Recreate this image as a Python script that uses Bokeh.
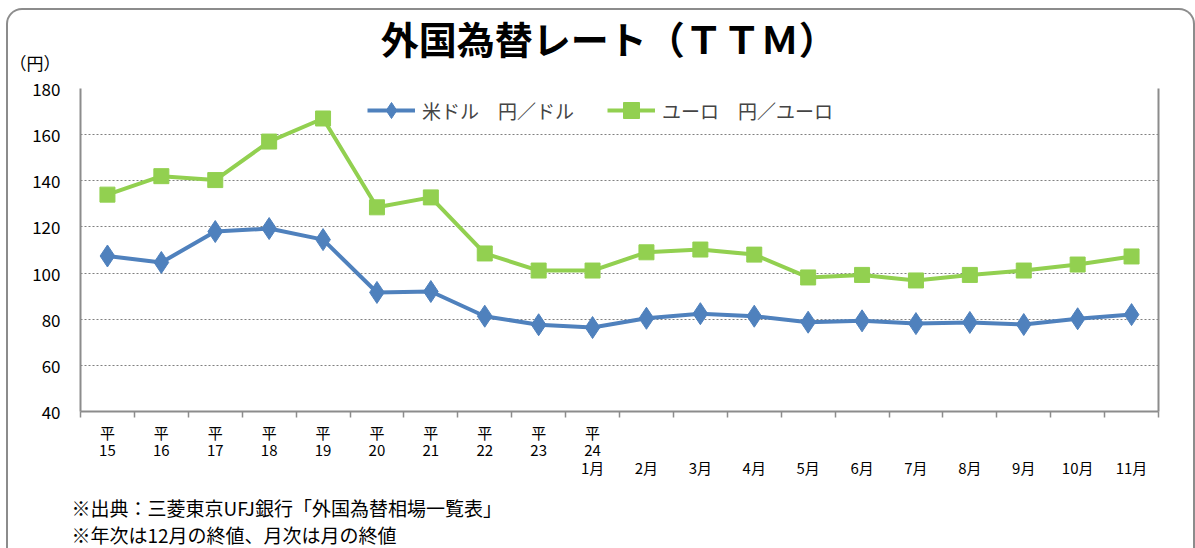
from bokeh.plotting import figure
from bokeh.models import Range1d, FixedTicker, LinearAxis, Legend, Title, Grid
from bokeh.embed import file_html
from bokeh.resources import INLINE

categories = ["平\n15", "平\n16", "平\n17", "平\n18", "平\n19", "平\n20", "平\n21",
              "平\n22", "平\n23", "平\n24\n1月", "\n\n2月", "\n\n3月", "\n\n4月",
              "\n\n5月", "\n\n6月", "\n\n7月", "\n\n8月", "\n\n9月", "\n\n10月", "\n\n11月"]
usd = [107.4, 104.6, 118.0, 119.3, 114.5, 91.6, 92.0, 81.3, 77.6, 76.4,
       80.4, 82.4, 81.3, 78.7, 79.3, 78.1, 78.6, 77.7, 80.2, 82.0]
eur = [134.0, 142.0, 140.3, 157.0, 167.0, 128.5, 132.8, 108.5, 101.1, 101.1,
       109.0, 110.2, 108.0, 98.1, 99.2, 96.8, 99.2, 101.1, 103.7, 107.2]
y_ticks = [40, 60, 80, 100, 120, 140, 160, 180]
y_tick_labels = ["40", "60", "80", "100", "120", "140", "160", "（円）\n180\n"]
usd_label = "米ドル　円／ドル"
eur_label = "ユーロ　円／ユーロ"
title_text = "外国為替レート（ＴＴＭ）"
notes = "※出典：三菱東京UFJ銀行「外国為替相場一覧表」\n※年次は12月の終値、月次は月の終値"

FONT = "Noto Sans CJK JP"
BLUE = "#4F81BD"
GREEN = "#92D050"
GRAY = "#8C8C8C"

xs = list(range(len(categories)))
title_pos = 9.3  # horizontal centre of the heading, in category units

frame_css = """
:host { position: relative; }
:host::after {
  content: ""; position: absolute; left: 6px; top: 8px; width: 1189px; height: 540px;
  box-sizing: border-box; border: 2px solid #8C8C8C; border-bottom: none;
  border-radius: 16px 16px 0 0; pointer-events: none;
}
"""

p = figure(width=1195, height=548, output_backend="svg", toolbar_location=None,
           x_range=Range1d(-0.5, len(categories) - 0.5), y_range=Range1d(40, 180),
           min_border_left=80, min_border_right=37, min_border_top=88, min_border_bottom=137,
           x_axis_type=None, y_axis_type=None)
p.margin = 0
p.stylesheets = [frame_css]
p.outline_line_color = None
p.background_fill_color = "white"
p.border_fill_color = "white"

# heading (drawn as the single label of an axis above the plot area)
taxis = LinearAxis(ticker=FixedTicker(ticks=[title_pos]))
taxis.major_label_overrides = {title_pos: title_text}
taxis.axis_line_color = None
taxis.major_tick_line_color = None
taxis.minor_tick_line_color = None
taxis.major_tick_out = 0
taxis.major_tick_in = 0
taxis.major_label_text_font = FONT
taxis.major_label_text_font_size = "38px"
taxis.major_label_text_font_style = "bold"
taxis.major_label_text_color = "black"
taxis.major_label_standoff = 24
p.add_layout(taxis, "above")

# x axis
xaxis = LinearAxis(ticker=FixedTicker(ticks=xs, minor_ticks=[x - 0.5 for x in xs] + [xs[-1] + 0.5]))
xaxis.major_label_overrides = {i: c for i, c in enumerate(categories)}
xaxis.major_tick_line_color = None
xaxis.major_tick_out = 0
xaxis.major_tick_in = 0
xaxis.minor_tick_out = 6
xaxis.minor_tick_in = 0
xaxis.minor_tick_line_color = GRAY
xaxis.minor_tick_line_width = 1.5
xaxis.axis_line_color = GRAY
xaxis.axis_line_width = 2
xaxis.major_label_text_font = FONT
xaxis.major_label_text_font_size = "15px"
xaxis.major_label_text_color = "black"
xaxis.major_label_standoff = 4
xaxis.major_label_text_line_height = 0.85
p.add_layout(xaxis, "below")

# empty spacer between the category labels and the notes
spacer = LinearAxis(ticker=FixedTicker(ticks=[0]))
spacer.major_label_overrides = {0: ""}
spacer.axis_line_color = None
spacer.major_tick_line_color = None
spacer.minor_tick_line_color = None
spacer.major_tick_out = 10
spacer.major_tick_in = 0
spacer.major_label_standoff = 0
spacer.major_label_text_font_size = "1px"
p.add_layout(spacer, "below")

# y axis
yaxis = LinearAxis(ticker=FixedTicker(ticks=y_ticks))
yaxis.major_label_overrides = {t: s for t, s in zip(y_ticks, y_tick_labels)}
yaxis.major_tick_line_color = None
yaxis.major_tick_out = 0
yaxis.major_tick_in = 0
yaxis.minor_tick_line_color = None
yaxis.axis_line_color = GRAY
yaxis.axis_line_width = 2
yaxis.major_label_text_font = FONT
yaxis.major_label_text_font_size = "17px"
yaxis.major_label_text_color = "black"
yaxis.major_label_text_line_height = 1.05
yaxis.major_label_standoff = 20
p.add_layout(yaxis, "left")

# right border line
raxis = LinearAxis(ticker=FixedTicker(ticks=[]))
raxis.major_tick_line_color = None
raxis.minor_tick_line_color = None
raxis.major_label_text_font_size = "0px"
raxis.axis_line_color = GRAY
raxis.axis_line_width = 2
p.add_layout(raxis, "right")

p.ygrid.grid_line_color = None
p.xgrid.grid_line_color = None
g = Grid(dimension=1, ticker=FixedTicker(ticks=y_ticks))
g.grid_line_color = "#808080"
g.grid_line_dash = "2 2"
g.grid_line_width = 1
p.add_layout(g)

l1 = p.line(xs, usd, line_color=BLUE, line_width=4)
s1 = p.scatter(xs, usd, marker="diamond", size=22, fill_color=BLUE, line_color=BLUE)
l2 = p.line(xs, eur, line_color=GREEN, line_width=4)
s2 = p.scatter(xs, eur, marker="square", size=15, fill_color=GREEN, line_color=GREEN)

legend = Legend(items=[(usd_label, [l1, s1]), (eur_label, [l2, s2])],
                orientation="horizontal", location=(287, 281))
legend.border_line_color = None
legend.background_fill_alpha = 0
legend.label_text_font = FONT
legend.label_text_font_size = "19px"
legend.glyph_width = 48
legend.glyph_height = 40
legend.label_standoff = 7
legend.spacing = 33
legend.padding = 0
legend.margin = 0
p.add_layout(legend, "center")

t_notes = Title(text=notes, align="left", offset=-9, standoff=0,
                text_font=FONT, text_font_size="19px", text_font_style="normal",
                text_color="black", text_line_height=1.0)
p.add_layout(t_notes, "below")

open("out.html", "w").write(file_html(p, INLINE))
